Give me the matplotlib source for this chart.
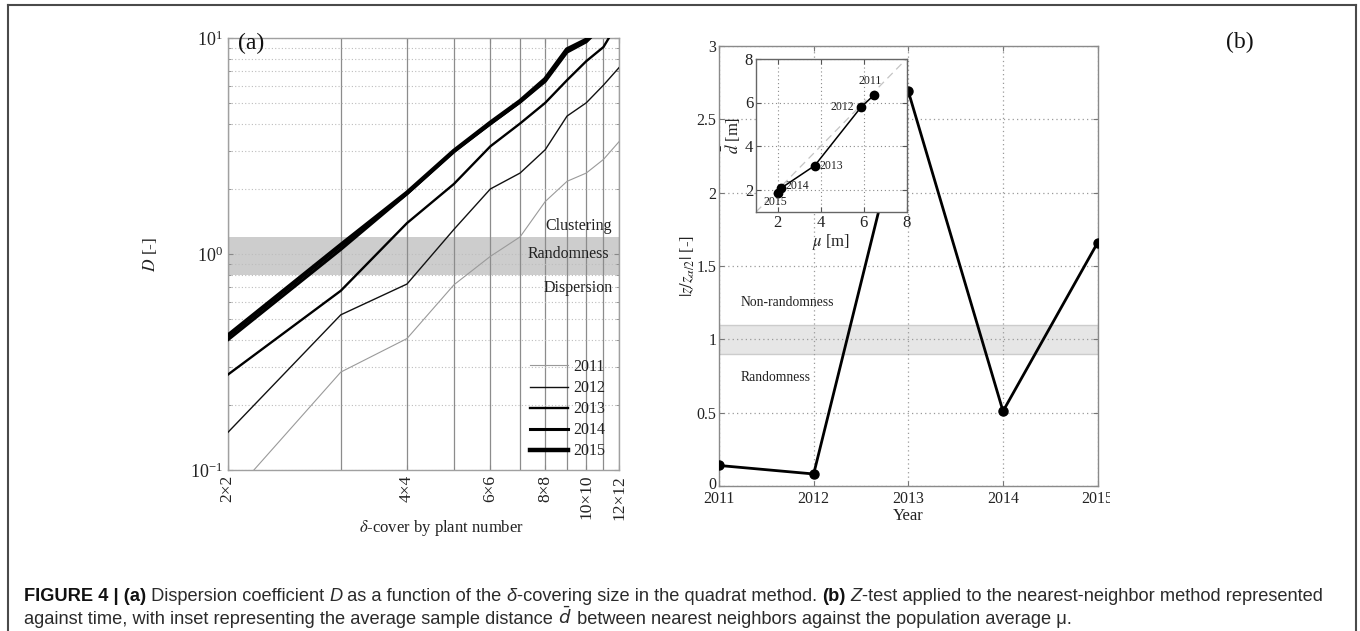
import matplotlib
matplotlib.use("Agg")
import matplotlib.pyplot as plt
from matplotlib.ticker import FixedLocator, NullFormatter, LogLocator, LogFormatterSciNotation
from matplotlib.lines import Line2D
from matplotlib.transforms import Bbox, TransformedBbox, ScaledTranslation

# ---------------- data ----------------
# panel (a): covering size (n x n) -> dispersion coefficient D
cover_n = [2, 3, 4, 5, 6, 7, 8, 9, 10, 11, 12]
cover_labels = ["2\u00d72", "4\u00d74", "6\u00d76", "8\u00d78", "10\u00d710", "12\u00d712"]
cover_label_n = [2, 4, 6, 8, 10, 12]
years_a = ["2011", "2012", "2013", "2014", "2015"]
D_2011 = [0.073, 0.284, 0.406, 0.72, 0.975, 1.2, 1.75, 2.17, 2.37, 2.74, 3.31]
D_2012 = [0.149, 0.523, 0.726, 1.30, 2.0, 2.37, 3.04, 4.35, 5.01, 6.05, 7.29]
D_2013 = [0.276, 0.676, 1.39, 2.11, 3.15, 4.02, 5.01, 6.38, 7.81, 9.08, 12.0]
D_2014 = [0.40, 1.05, 1.90, 2.99, 4.0, 5.05, 6.3, 8.6, 9.6, 11.5, 13.0]
D_2015 = [0.418, 1.10, 1.92, 3.0, 4.05, 5.1, 6.45, 8.85, 9.8, 11.5, 13.0]
band_a = [0.8, 1.2]

# panel (b): z-test
years_b = [2011, 2012, 2013, 2014, 2015]
z_ratio = [0.14, 0.082, 2.69, 0.51, 1.66]
band_b = [0.9, 1.1]

# inset: population average mu vs sample distance d
mu = [6.46, 5.88, 3.73, 2.15, 2.04]
dbar = [6.32, 5.79, 3.12, 2.08, 1.88]
inset_labels = ["2011", "2012", "2013", "2014", "2015"]

# ---------------- style ----------------
plt.rcParams["font.family"] = ["Liberation Serif", "DejaVu Serif"]
plt.rcParams["mathtext.fontset"] = "stix"
W, H = 1360, 631
fig = plt.figure(figsize=(W / 100, H / 100), dpi=100)


def fx(px):
    return px / W


def fy(py):
    return 1 - py / H


TXT = "#222222"

# ---------------- panel (a) ----------------
L, R, T, B = 227.7, 619.0, 38.0, 470.0
axA = fig.add_axes([fx(L), fy(B), (R - L) / W, (B - T) / H])
xs = [n - 1 for n in cover_n]
styles = [("#9a9a9a", 0.8), ("#111111", 1.0), ("#000000", 1.7), ("#000000", 2.2), ("#000000", 3.2)]
for yr, vals, (c, lw) in zip(years_a, [D_2011, D_2012, D_2013, D_2014, D_2015], styles):
    axA.plot(xs, vals, color=c, lw=lw, label=yr, zorder=3)
axA.axhspan(band_a[0], band_a[1], color="#cdcdcd", lw=0, zorder=0.5)
axA.set_xscale("log")
axA.set_yscale("log")
axA.set_xlim(1, 11)
axA.set_ylim(0.1, 10)
axA.xaxis.set_major_locator(FixedLocator([n - 1 for n in cover_label_n]))
axA.set_xticklabels(cover_labels, rotation=90)
axA.xaxis.set_minor_locator(FixedLocator([n - 1 for n in cover_n if n not in cover_label_n]))
axA.xaxis.set_minor_formatter(NullFormatter())
axA.yaxis.set_major_locator(LogLocator(base=10, numticks=5))
axA.yaxis.set_major_formatter(LogFormatterSciNotation())
axA.yaxis.set_minor_locator(LogLocator(base=10, subs=range(2, 10), numticks=20))
axA.yaxis.set_minor_formatter(NullFormatter())
axA.grid(True, which="both", axis="x", ls="-", color="#8c8c8c", lw=0.9, zorder=1)
axA.grid(True, which="both", axis="y", ls=(0, (1, 2)), color="#bdbdbd", lw=0.8, zorder=1)
axA.set_axisbelow(True)
for s in axA.spines.values():
    s.set_color("#a0a0a0")
    s.set_linewidth(1.0)
axA.tick_params(which="both", direction="in", top=True, right=True, colors="#888888",
                labelcolor=TXT, labelsize=12.5)
axA.tick_params(axis="y", labelsize=13)
axA.tick_params(which="minor", length=2)
axA.set_xlabel(r"$\delta$-cover by plant number", fontsize=12, color=TXT)
axA.xaxis.set_label_coords((441.5 - L) / (R - L), -(527.7 - B) / (B - T), transform=axA.transAxes)
axA.xaxis.label.set_va("center")
axA.set_ylabel(r"$D$ [-]", fontsize=12.5, color=TXT)
axA.yaxis.set_label_coords((150 - L) / (R - L), 0.5)
axA.yaxis.label.set_va("center")
leg = axA.legend(loc="upper left", bbox_to_anchor=(fx(530), fy(359)), bbox_transform=fig.transFigure,
                 frameon=False, fontsize=11.5, handlelength=2.4, handletextpad=0.3,
                 labelspacing=0.32, borderpad=0, borderaxespad=0)
for t in leg.get_texts():
    t.set_color(TXT)
fig.text(fx(251), fy(43), "(a)", fontsize=17, ha="center", va="center", color="#111111")
for txt, px, py in [("Clustering", 611.7, 226), ("Randomness", 609, 254.3), ("Dispersion", 613, 287.7)]:
    fig.text(fx(px), fy(py), txt, fontsize=11.5, ha="right", va="center", color=TXT)

# ---------------- panel (b) ----------------
L2, R2, T2, B2 = 719.0, 1097.7, 46.0, 486.0
axB = fig.add_axes([fx(L2), fy(B2), (R2 - L2) / W, (B2 - T2) / H])
axB.axhspan(band_b[0], band_b[1], facecolor="#e6e6e6", edgecolor="#cccccc", lw=1.0, zorder=0.5)
axB.plot(years_b, z_ratio, color="black", lw=2.0, marker="o", ms=6.5, zorder=3)
axB.set_xlim(2011, 2015)
axB.set_ylim(0, 3)
axB.set_xticks(years_b)
axB.set_xticklabels([str(y) for y in years_b])
axB.set_yticks([0, 0.5, 1, 1.5, 2, 2.5, 3])
axB.set_yticklabels(["0", "0.5", "1", "1.5", "2", "2.5", "3"])
axB.grid(True, ls=(0, (1, 2.5)), color="#9a9a9a", lw=0.9, zorder=1)
axB.set_axisbelow(True)
for s in axB.spines.values():
    s.set_color("#8a8a8a")
    s.set_linewidth(1.0)
axB.tick_params(direction="in", top=True, right=True, colors="#777777", labelcolor=TXT,
                labelsize=11.5, pad=2)
axB.tick_params(axis="x", pad=3.5)
axB.set_xlabel("Year", fontsize=12, color=TXT)
axB.xaxis.set_label_coords(0.5, -(516 - B2) / (B2 - T2))
axB.xaxis.label.set_va("center")
axB.set_ylabel(r"$|z/z_{\alpha/2}|$ [-]", fontsize=12, color=TXT)
axB.yaxis.set_label_coords((688 - L2) / (R2 - L2), 0.5)
axB.yaxis.label.set_va("center")
axB.text(fx(741), fy(303), "Non-randomness", transform=fig.transFigure, fontsize=9.8,
         ha="left", va="center", color=TXT)
axB.text(fx(741), fy(377.7), "Randomness", transform=fig.transFigure, fontsize=9.8,
         ha="left", va="center", color=TXT)
fig.text(fx(1240), fy(42), "(b)", fontsize=17, ha="center", va="center", color="#111111")
# the last year label is cut at the edge of the original picture
clip = TransformedBbox(Bbox([[0, 0], [fx(1110), 1]]), fig.transFigure)
lab = axB.get_xticklabels()[-1]
lab.set_clip_on(True)
lab.set_clip_box(clip)
# lift the "0" label slightly so it sits just above the "2011" label
zero_lab = axB.get_yticklabels()[0]
zero_lab.set_transform(zero_lab.get_transform() + ScaledTranslation(0, 3 / 100, fig.dpi_scale_trans))

# ---------------- inset ----------------
L3, R3, T3, B3 = 756.0, 906.7, 58.7, 212.0
axI = fig.add_axes([fx(L3), fy(B3), (R3 - L3) / W, (B3 - T3) / H])
axI.plot([1, 8], [1, 8], color="#c4c4c4", lw=0.9, ls=(0, (6, 4)), zorder=2)
axI.plot(mu, dbar, color="black", lw=1.1, marker="o", ms=6, zorder=3)
axI.set_xlim(1, 8)
axI.set_ylim(1, 8)
axI.set_xticks([2, 4, 6, 8])
axI.set_yticks([2, 4, 6, 8])
axI.grid(True, ls=(0, (1, 2.5)), color="#8a8a8a", lw=0.8, zorder=1)
axI.set_axisbelow(True)
for s in axI.spines.values():
    s.set_color("#666666")
    s.set_linewidth(1.0)
axI.tick_params(direction="in", top=True, right=True, colors="#555555", labelcolor=TXT,
                labelsize=12, pad=2)
axI.set_xlabel(r"$\mu$ [m]", fontsize=12, color=TXT, labelpad=1)
axI.set_ylabel(r"$\bar{d}$ [m]", fontsize=12, color=TXT, labelpad=1)
offsets = [((-3, 14), "center"), ((-7, 0), "right"), ((5, 0), "left"), ((5, 2), "left"), ((-3, -9), "center")]
for m, d, lab_, (off, ha) in zip(mu, dbar, inset_labels, offsets):
    axI.annotate(lab_, (m, d), xytext=off, textcoords="offset pixels", ha=ha, va="center",
                 fontsize=8.5, color=TXT)

# ---------------- frame ----------------
fc = "#4a4a4a"
fig.add_artist(Line2D([fx(8), fx(1356)], [fy(5), fy(5)], color=fc, lw=1.5, transform=fig.transFigure))
fig.add_artist(Line2D([fx(8), fx(8)], [fy(5), fy(631)], color=fc, lw=1.5, transform=fig.transFigure))
fig.add_artist(Line2D([fx(1356), fx(1356)], [fy(5), fy(631)], color=fc, lw=1.5, transform=fig.transFigure))

# ---------------- caption ----------------
cap_font = ["Liberation Sans Narrow", "Liberation Sans", "DejaVu Sans"]
line1 = [("FIGURE 4 | (a)", "bold", "normal"), (" Dispersion coefficient ", "normal", "normal"),
         ("D", "normal", "italic"), (" as a function of the ", "normal", "normal"),
         ("\u03b4", "normal", "italic"), ("-covering size in the quadrat method. ", "normal", "normal"),
         ("(b)", "bold", "normal"), (" ", "normal", "normal"), ("Z", "normal", "italic"),
         ("-test applied to the nearest-neighbor method represented", "normal", "normal")]
line2 = [("against time, with inset representing the average sample distance ", "normal", "normal"),
         (r"$\bar{d}$", "normal", "italic"),
         (" between nearest neighbors against the population average \u03bc.", "normal", "normal")]

renderer = fig.canvas.get_renderer()


def draw_line(parts, x0, ybase, size):
    arts = []
    x = x0
    for txt, wt, st in parts:
        col = "#111111" if wt == "bold" else "#2b2b2b"
        kw = dict(fontsize=size, fontweight=wt, fontstyle=st, family=cap_font, color=col,
                  ha="left", va="baseline")
        if txt.startswith("$"):
            kw.pop("family")
            kw["math_fontfamily"] = "dejavusans"
        t = fig.text(fx(x), fy(ybase), txt, **kw)
        bb = t.get_window_extent(renderer)
        x += bb.width
        arts.append(t)
    return arts, x - x0


size = 13
arts, w = draw_line(line1, 24, 601, size)
for a in arts:
    a.remove()
size = size * (1294 / w)
draw_line(line1, 24, 601, size)
draw_line(line2, 24, 624, size)

fig.savefig("out.png", dpi=100)
